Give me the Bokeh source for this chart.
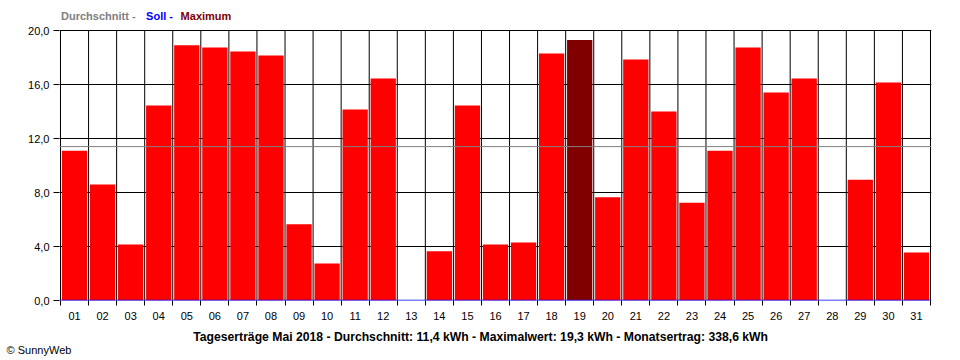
from bokeh.plotting import figure
from bokeh.models import Range1d, FixedTicker, Span, Label
from bokeh.embed import file_html
from bokeh.resources import INLINE

# ---- data ----
day_labels = ["01", "02", "03", "04", "05", "06", "07", "08", "09", "10",
              "11", "12", "13", "14", "15", "16", "17", "18", "19", "20",
              "21", "22", "23", "24", "25", "26", "27", "28", "29", "30", "31"]
day_pos = list(range(1, 32))
yields_kwh = [11.1, 8.6, 4.15, 14.45, 18.9, 18.75, 18.45, 18.15, 5.65, 2.75,
              14.15, 16.45, 0.0, 3.65, 14.45, 4.15, 4.3, 18.3, 19.3, 7.65,
              17.85, 14.0, 7.25, 11.1, 18.75, 15.4, 16.45, 0.0, 8.95, 16.15, 3.55]
average_kwh = 11.4
soll_kwh = 0.0
y_ticks = [0, 4, 8, 12, 16, 20]
y_tick_labels = ["0,0", "4,0", "8,0", "12,0", "16,0", "20,0"]
y_max = 20
caption = ("Tageserträge Mai 2018 - Durchschnitt: 11,4 kWh - Maximalwert: 19,3 kWh"
           " - Monatsertrag: 338,6 kWh")

FONT = "Liberation Sans"
RED = "#FF0000"
MAXRED = "#800000"

max_val = max(yields_kwh)
bar_colors = [MAXRED if v == max_val else RED for v in yields_kwh]
boundaries = [d - 0.5 for d in day_pos] + [day_pos[-1] + 0.5]

# frame: x from page 59 to 931 (28.06 px per day), y from page 4 to 300 (13.5 px per kWh)
pad = 1 / 28.06
p = figure(width=952, height=358,
           x_range=Range1d(0.5 - pad, 31.5 + pad), y_range=Range1d(0, 296 / 13.5),
           output_backend="svg", toolbar_location=None,
           min_border_left=59, min_border_right=21,
           min_border_top=4, min_border_bottom=58)
p.background_fill_color = "white"
p.border_fill_color = "white"
p.outline_line_color = None

# grids
p.xgrid.grid_line_color = None
p.ygrid.ticker = FixedTicker(ticks=y_ticks)
p.ygrid.grid_line_color = "black"
p.ygrid.grid_line_width = 1

# vertical day separators (limited to the value range)
p.segment(x0=boundaries, y0=[0] * len(boundaries), x1=boundaries,
          y1=[y_max] * len(boundaries), line_color="black", line_width=1)

# x axis
xa = p.xaxis[0]
xa.ticker = FixedTicker(ticks=day_pos, minor_ticks=boundaries)
xa.major_label_overrides = {d: lab for d, lab in zip(day_pos, day_labels)}
xa.axis_line_color = None
xa.major_tick_line_color = None
xa.major_tick_out = 5
xa.major_tick_in = 0
xa.minor_tick_out = 5
xa.minor_tick_in = 0
xa.minor_tick_line_color = "black"
xa.major_label_standoff = 6
xa.major_label_text_font = FONT
xa.major_label_text_font_size = "11px"
xa.major_label_text_color = "black"

# y axis
ya = p.yaxis[0]
ya.ticker = FixedTicker(ticks=y_ticks)
ya.major_label_overrides = {t: lab for t, lab in zip(y_ticks, y_tick_labels)}
ya.axis_line_color = None
ya.major_tick_out = 6
ya.major_tick_in = 0
ya.minor_tick_line_color = None
ya.major_tick_line_color = "black"
ya.major_label_standoff = 4
ya.major_label_text_font = FONT
ya.major_label_text_font_size = "11px"
ya.major_label_text_color = "black"

# bars
p.vbar(x=day_pos, top=yields_kwh, bottom=0, width=0.9,
       fill_color=bar_colors, line_color=None)

# average and soll lines
p.add_layout(Span(location=average_kwh, dimension="width",
                  line_color="#808080", line_width=1))
p.add_layout(Span(location=soll_kwh, dimension="width",
                  line_color="#0000FF", line_width=1.5))

# header legend texts (inside the frame, above the 20,0 line)
for txt, xx, col in [("Durchschnitt -", 0.52, "#808080"),
                     ("Soll -", 3.55, "#0000FF"),
                     ("Maximum", 4.78, MAXRED)]:
    p.add_layout(Label(x=xx, y=21.05, text=txt, text_color=col,
                       text_font=FONT, text_font_size="11px",
                       text_font_style="bold", text_baseline="middle",
                       text_align="left"))

# caption
p.add_layout(Label(x=15.47, y=-2.67, text=caption, text_color="black",
                   text_font=FONT, text_font_size="12.2px",
                   text_font_style="bold", text_baseline="middle",
                   text_align="center"), "below")

# copyright
p.add_layout(Label(x=-1.42, y=-3.63, text="© SunnyWeb", text_color="black",
                   text_font=FONT, text_font_size="11px",
                   text_baseline="middle", text_align="left"), "below")

open("out.html", "w").write(file_html(p, INLINE))
